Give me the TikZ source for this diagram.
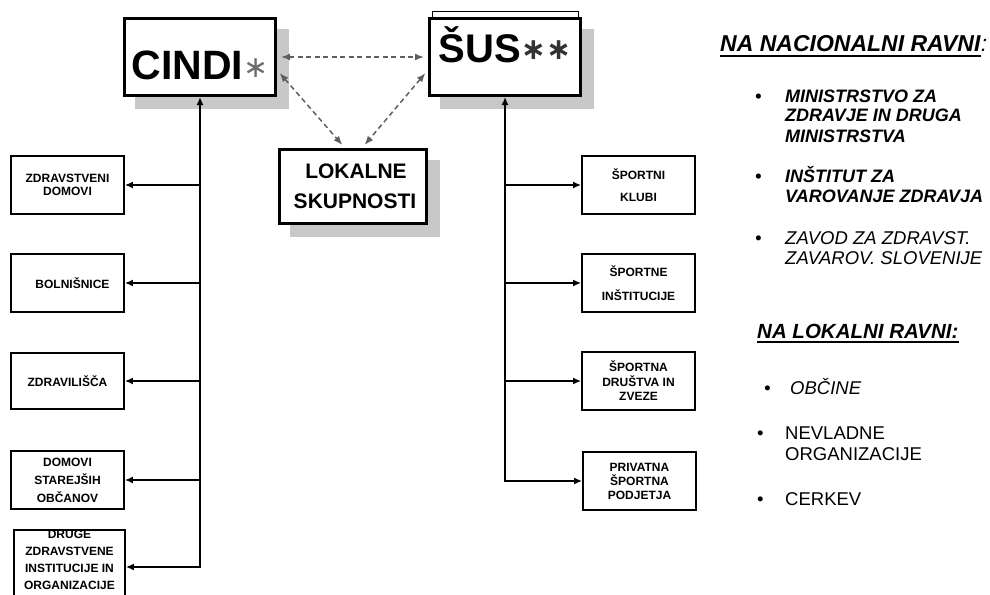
\documentclass[tikz,border=0pt]{standalone}
\usepackage{fontspec}
\setmainfont{Liberation Sans}
\newfontfamily\djv{DejaVu Sans}
\usetikzlibrary{arrows.meta,backgrounds}
\definecolor{shadowc}{RGB}{200,200,200}
\definecolor{dashc}{RGB}{95,95,95}
\definecolor{astc}{RGB}{110,110,110}
\begin{document}
\begin{tikzpicture}[x=1pt,y=-1pt,
  bigbox/.style={draw, line width=3pt, fill=white, rectangle, inner sep=0pt},
  smallbox/.style={draw, line width=1.8pt, fill=white, rectangle, inner sep=0pt, align=center,
     minimum width=113pt, minimum height=58pt, font=\fontsize{12}{13}\selectfont\bfseries},
  conn/.style={line width=1.8pt, -{Latex[length=8pt,width=7pt]}},
  dashlink/.style={dashc, line width=1.5pt, dash pattern=on 5pt off 3.5pt,
     {Latex[length=9pt,width=7pt]}-{Latex[length=9pt,width=7pt]}, shorten <=4pt, shorten >=4pt},
  item/.style={anchor=base west, inner sep=0pt, font=\fontsize{18.5}{20}\selectfont\itshape},
  itembf/.style={anchor=base west, inner sep=0pt, font=\fontsize{18}{20}\selectfont\bfseries\itshape},
  itemup/.style={anchor=base west, inner sep=0pt, font=\fontsize{18.5}{21}\selectfont},
  heading/.style={anchor=base west, inner sep=0pt},
  uline/.style={line width=2pt}
]
\useasboundingbox (0,0) rectangle (990,594);
\clip (0,0) rectangle (990,594);

% back outline behind SUS
\draw[line width=1pt] (432,12) rectangle (578,90);

% big boxes
\node[bigbox, minimum width=151pt, minimum height=77pt, text height=46pt, text depth=0pt,
      font=\fontsize{41}{41}\selectfont\bfseries] (cindi) at (200,57)
  {CINDI\raisebox{2pt}{\djv\mdseries\fontsize{30}{30}\selectfont\color{astc}∗}};
\node[bigbox, minimum width=151pt, minimum height=77pt, text height=30pt, text depth=18pt,
      font=\fontsize{40}{40}\selectfont\bfseries] (sus) at (505,57)
  {ŠUS\raisebox{3pt}{\djv\bfseries\fontsize{30}{30}\selectfont\color{black!80}∗∗}};
\node[bigbox, minimum width=147pt, minimum height=74pt, align=center,
      font=\fontsize{21}{30}\selectfont\bfseries] (lok) at (353,186.5) {\hspace*{6pt}LOKALNE\\\hspace*{4pt}SKUPNOSTI};

% left boxes
\node[smallbox] (zd) at (67.5,185) {ZDRAVSTVENI\\DOMOVI};
\node[smallbox] (bol) at (67.5,283) {\hspace*{10pt}BOLNIŠNICE};
\node[smallbox, minimum height=56pt] (zdr) at (67.5,381) {ZDRAVILIŠČA};
\node[smallbox, font=\fontsize{12}{18}\selectfont\bfseries] (dom) at (67.5,480) {DOMOVI\\STAREJŠIH\\OBČANOV};
\node[smallbox, minimum width=111pt, minimum height=74pt, font=\fontsize{12}{17}\selectfont\bfseries] (dru) at (69.5,567)
  {\raisebox{6pt}[\height][\depth]{\begin{tabular}{@{}c@{}}DRUGE\\ZDRAVSTVENE\\INSTITUCIJE IN\\ORGANIZACIJE\end{tabular}}};

% right boxes
\node[smallbox, font=\fontsize{12}{22}\selectfont\bfseries] (r1) at (638.5,185) {ŠPORTNI\\KLUBI};
\node[smallbox, font=\fontsize{12}{24}\selectfont\bfseries] (r2) at (638.5,283) {ŠPORTNE\\INŠTITUCIJE};
\node[smallbox, font=\fontsize{12}{14.5}\selectfont\bfseries] (r3) at (638.5,381) {ŠPORTNA\\DRUŠTVA IN\\ZVEZE};
\node[smallbox, font=\fontsize{12}{14}\selectfont\bfseries] (r4) at (639.5,481) {PRIVATNA\\ŠPORTNA\\PODJETJA};

% shadows
\begin{scope}[on background layer]
  \fill[white] (0,0) rectangle (990,594);
  \foreach \b in {cindi,sus,lok}
    \fill[shadowc] ([shift={(12,12)}]\b.north west) rectangle ([shift={(12,12)}]\b.south east);
\end{scope}

% left tree
\coordinate (lt) at (cindi.south |- dru.east);
\draw[conn, line cap=rect] (lt) -- (cindi.south);
\foreach \b in {zd,bol,zdr,dom,dru}
  \draw[conn] (cindi.south |- \b.east) -- (\b.east);

% right tree
\coordinate (rt) at (sus.south |- r4.west);
\draw[conn, line cap=rect] (rt) -- (sus.south);
\foreach \b in {r1,r2,r3,r4}
  \draw[conn] (sus.south |- \b.west) -- (\b.west);

% dashed links
\draw[dashlink] (cindi.east) -- (sus.west);
\draw[dashlink] ([yshift=-13pt]cindi.east) -- ([xshift=-8pt]lok.north);
\draw[dashlink] ([yshift=-13pt]sus.west) -- ([xshift=9pt]lok.north);

% right text
\node[heading, font=\fontsize{23}{23}\selectfont\bfseries\itshape] (h1) at (720,52) {NA NACIONALNI RAVNI};
\node[heading, font=\fontsize{23}{23}\selectfont\itshape] (h1c) at (h1.base east) {:};
\draw[uline] ([yshift=-4pt]h1.base west) -- ([yshift=-4pt]h1.base east);
\node[itembf] (n1) at (755,102) {\begin{tabular}[t]{@{}p{30pt}@{}l@{}}•&MINISTRSTVO ZA\\&ZDRAVJE IN DRUGA\\&MINISTRSTVA\end{tabular}};
\node[itembf] (n2) at (755,182) {\begin{tabular}[t]{@{}p{30pt}@{}l@{}}•&INŠTITUT ZA\\&VAROVANJE ZDRAVJA\end{tabular}};
\node[item] (n3) at (755,244) {\begin{tabular}[t]{@{}p{30pt}@{}l@{}}•&ZAVOD ZA ZDRAVST.\\&ZAVAROV. SLOVENIJE\end{tabular}};
\node[heading, font=\fontsize{20.5}{20.5}\selectfont\bfseries\itshape] (h2) at (757,338) {NA LOKALNI RAVNI:};
\draw[uline] ([yshift=-4pt]h2.base west) -- ([yshift=-4pt]h2.base east);
\node[item] (n4) at (764,394) {\begin{tabular}[t]{@{}p{26pt}@{}l@{}}•&OBČINE\end{tabular}};
\node[itemup] (n5) at (757,439) {\begin{tabular}[t]{@{}p{28pt}@{}l@{}}•&NEVLADNE\\&ORGANIZACIJE\end{tabular}};
\node[itemup] (n6) at (757,505) {\begin{tabular}[t]{@{}p{28pt}@{}l@{}}•&CERKEV\end{tabular}};
\end{tikzpicture}
\end{document}
